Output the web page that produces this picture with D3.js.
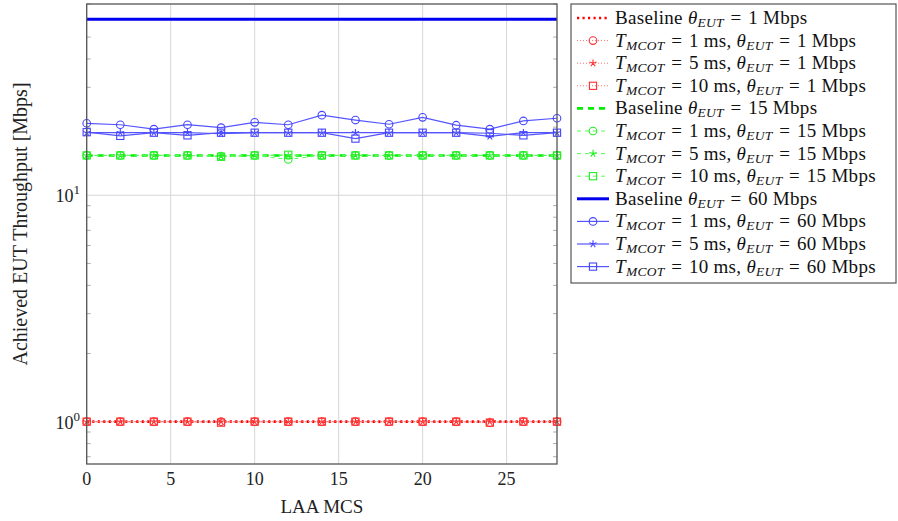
<!DOCTYPE html>
<html>
<head>
<meta charset="utf-8">
<script src="https://cdn.jsdelivr.net/npm/d3@7"></script>
<style>
  body { margin: 0; background: #fff; }
  svg { font-family: "Liberation Serif", "DejaVu Serif", serif; }
</style>
</head>
<body>
<svg id="chart" width="898" height="521"></svg>
<script>
// data
var mcs = [0, 2, 4, 6, 8, 10, 12, 14, 16, 18, 20, 22, 24, 26, 28];
var xTicks = [0, 5, 10, 15, 20, 25];
var yTicks = [1, 10];

var base1 = [1, 1, 1, 1, 1, 1, 1, 1, 1, 1, 1, 1, 1, 1, 1];
var red1ms = [1, 1, 1, 1, 1, 1, 1, 1, 1, 1, 1, 1, 0.99, 1, 1];
var red5ms = [1, 1, 1, 1, 1, 1, 1, 1, 1, 1, 1, 1, 1, 1, 1];
var red10ms = [1, 1, 1, 1, 0.99, 1, 1, 1, 1, 1, 1, 1, 0.99, 1, 1];

var base15 = [15, 15, 15, 15, 15, 15, 15, 15, 15, 15, 15, 15, 15, 15, 15];
var green1ms = [15, 15, 15, 15, 14.9, 15, 14.4, 15, 15, 15, 15, 15, 15, 15, 15];
var green5ms = [15, 15, 15, 15, 14.9, 15, 15, 15, 15, 15, 15, 15, 15, 15, 15];
var green10ms = [15, 15, 15, 15, 14.8, 15, 15.1, 15, 15, 15, 15, 15, 15, 15, 15];

var base60 = [60, 60, 60, 60, 60, 60, 60, 60, 60, 60, 60, 60, 60, 60, 60];
var blue1ms = [20.8, 20.5, 19.6, 20.5, 19.9, 21.0, 20.5, 22.6, 21.5, 20.6, 22.1, 20.4, 19.6, 21.3, 21.9];
var blue5ms = [18.9, 18.9, 18.9, 18.9, 18.7, 18.9, 18.9, 18.9, 18.9, 18.9, 18.9, 18.9, 18.2, 18.9, 18.9];
var blue10ms = [19.0, 18.3, 18.9, 18.4, 18.9, 18.9, 18.9, 18.9, 17.8, 18.9, 18.9, 18.9, 18.8, 18.4, 18.9];

var series = [
  {rate: "1", t: null, values: base1, color: "#ff0000", width: 2.6, dash: "2.2,3.3", mark: null},
  {rate: "1", t: "1", values: red1ms, color: "#ff7070", width: 1, dash: "1,2", mark: "circle"},
  {rate: "1", t: "5", values: red5ms, color: "#ff7070", width: 1, dash: "1,2", mark: "star"},
  {rate: "1", t: "10", values: red10ms, color: "#ff7070", width: 1, dash: "1,2", mark: "square"},
  {rate: "15", t: null, values: base15, color: "#00ee00", width: 2.6, dash: "6,5", mark: null},
  {rate: "15", t: "1", values: green1ms, color: "#55ff55", width: 1, dash: "4,4", mark: "circle"},
  {rate: "15", t: "5", values: green5ms, color: "#55ff55", width: 1, dash: "4,4", mark: "star"},
  {rate: "15", t: "10", values: green10ms, color: "#55ff55", width: 1, dash: "4,4", mark: "square"},
  {rate: "60", t: null, values: base60, color: "#0000ee", width: 3, dash: null, mark: null},
  {rate: "60", t: "1", values: blue1ms, color: "#5555ff", width: 1.2, dash: null, mark: "circle"},
  {rate: "60", t: "5", values: blue5ms, color: "#5555ff", width: 1.2, dash: null, mark: "star"},
  {rate: "60", t: "10", values: blue10ms, color: "#5555ff", width: 1.2, dash: null, mark: "square"}
];

var svg = d3.select("#chart");
var plot = {left: 86.7, right: 557, top: 4, bottom: 464};

var x = d3.scaleLinear().domain([0, 28]).range([plot.left, plot.right]);
var y = d3.scaleLog().domain([0.65, 70]).range([plot.bottom, plot.top]);

// grid
var grid = svg.append("g").attr("stroke", "#d6d6d6").attr("stroke-width", 1);
xTicks.forEach(function(t) {
  grid.append("line").attr("x1", x(t)).attr("x2", x(t)).attr("y1", plot.top).attr("y2", plot.bottom);
});
yTicks.forEach(function(t) {
  grid.append("line").attr("x1", plot.left).attr("x2", plot.right).attr("y1", y(t)).attr("y2", y(t));
});

// minor log ticks, inward on both sides
var minor = [0.7, 0.8, 0.9, 2, 3, 4, 5, 6, 7, 8, 9, 20, 30, 40, 50, 60, 70];
var tk = svg.append("g").attr("stroke", "#999").attr("stroke-width", 0.8);
minor.forEach(function(m) {
  tk.append("line").attr("x1", plot.left).attr("x2", plot.left + 4).attr("y1", y(m)).attr("y2", y(m));
  tk.append("line").attr("x1", plot.right).attr("x2", plot.right - 4).attr("y1", y(m)).attr("y2", y(m));
});

// series
var line = d3.line()
  .x(function(d, i) { return x(mcs[i]); })
  .y(function(d) { return y(d); });

function markColor(s) {
  return s.rate === "1" ? "#ff3030" : (s.rate === "15" ? "#22ee22" : "#4444ff");
}

function drawMark(g, type, cx, cy, color) {
  if (type === "circle") {
    g.append("circle").attr("cx", cx).attr("cy", cy).attr("r", 3.8)
      .attr("fill", "none").attr("stroke", color).attr("stroke-width", 1.1);
  } else if (type === "square") {
    g.append("rect").attr("x", cx - 3.6).attr("y", cy - 3.6).attr("width", 7.2).attr("height", 7.2)
      .attr("fill", "none").attr("stroke", color).attr("stroke-width", 1.1);
  } else if (type === "star") {
    var p = "";
    for (var k = 0; k < 5; k++) {
      var a = -Math.PI / 2 + k * 2 * Math.PI / 5;
      p += "M" + cx + "," + cy + "L" + (cx + 3.8 * Math.cos(a)) + "," + (cy + 3.8 * Math.sin(a));
    }
    g.append("path").attr("d", p).attr("stroke", color).attr("stroke-width", 1.1).attr("fill", "none");
  }
}

svg.append("defs").append("clipPath").attr("id", "clip")
  .append("rect").attr("x", plot.left).attr("y", plot.top)
  .attr("width", plot.right - plot.left).attr("height", plot.bottom - plot.top);

var plotG = svg.append("g");
series.forEach(function(s) {
  var g = plotG.append("g");
  g.append("path")
    .attr("d", line(s.values))
    .attr("fill", "none")
    .attr("stroke", s.color)
    .attr("stroke-width", s.width)
    .attr("stroke-dasharray", s.dash)
    .attr("clip-path", "url(#clip)");
  if (s.mark) {
    s.values.forEach(function(v, i) { drawMark(g, s.mark, x(mcs[i]), y(v), markColor(s)); });
  }
});

// frame
svg.append("rect")
  .attr("x", plot.left).attr("y", plot.top)
  .attr("width", plot.right - plot.left).attr("height", plot.bottom - plot.top)
  .attr("fill", "none").attr("stroke", "#555").attr("stroke-width", 1.3);

// x tick labels
svg.append("g").selectAll("text").data(xTicks).join("text")
  .attr("x", function(d) { return x(d); })
  .attr("y", 485)
  .attr("text-anchor", "middle")
  .attr("font-size", 18)
  .attr("fill", "#222")
  .text(function(d) { return d; });

// y tick labels as 10^n
yTicks.forEach(function(t) {
  var txt = svg.append("text")
    .attr("x", 80).attr("y", y(t) + 7)
    .attr("text-anchor", "end")
    .attr("font-size", 18)
    .attr("fill", "#222");
  txt.append("tspan").text("10");
  txt.append("tspan").attr("dy", -8).attr("font-size", 13).text(Math.round(Math.log10(t)));
});

// axis titles
svg.append("text")
  .attr("x", x(14)).attr("y", 513)
  .attr("text-anchor", "middle")
  .attr("font-size", 19)
  .attr("fill", "#222")
  .text("LAA MCS");

svg.append("text")
  .attr("transform", "translate(27,224) rotate(-90)")
  .attr("text-anchor", "middle")
  .attr("font-size", 20)
  .attr("fill", "#222")
  .text("Achieved EUT Throughput [Mbps]");

// legend
var leg = svg.append("g");
leg.append("rect").attr("x", 571).attr("y", 4).attr("width", 325).attr("height", 279)
  .attr("fill", "#fff").attr("stroke", "#555").attr("stroke-width", 1.2);

// italic symbol with italic subscript; the following tspan moves back up
function subLabel(txt, main, sub) {
  txt.append("tspan").attr("font-style", "italic").text(main);
  txt.append("tspan").attr("font-style", "italic").attr("font-size", 13.5).attr("dy", 3).text(sub);
}

series.forEach(function(s, i) {
  var cy = 18 + i * 22.6;
  var g = leg.append("g");
  g.append("line").attr("x1", 577).attr("x2", 609).attr("y1", cy).attr("y2", cy)
    .attr("stroke", s.color).attr("stroke-width", s.width)
    .attr("stroke-dasharray", s.dash);
  if (s.mark) drawMark(g, s.mark, 593, cy, markColor(s));
  var txt = g.append("text").attr("x", 615).attr("y", cy + 6)
    .attr("font-size", 19).attr("letter-spacing", 0.3).attr("fill", "#111");
  if (s.t === null) {
    txt.append("tspan").text("Baseline ");
  } else {
    subLabel(txt, "T", "MCOT");
    txt.append("tspan").attr("dy", -3).text("\u2004=\u2004" + s.t + " ms, ");
  }
  subLabel(txt, "\u03b8", "EUT");
  txt.append("tspan").attr("dy", -3).text("\u2004=\u2004" + s.rate + " Mbps");
});
</script>
</body>
</html>
